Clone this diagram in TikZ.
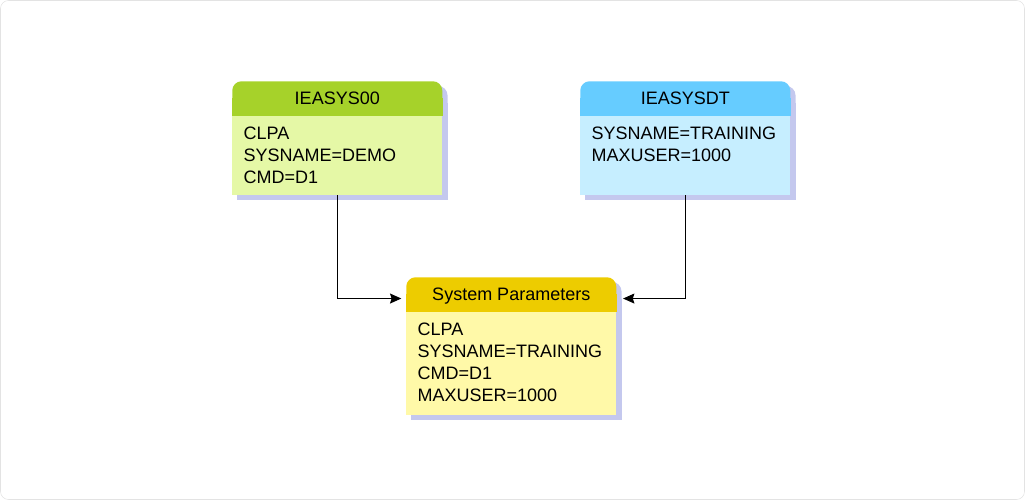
\documentclass[tikz,border=0pt]{standalone}
\usepackage{fontspec}
\setmainfont{Liberation Sans}
\usepackage{tikz}
\usetikzlibrary{arrows.meta,positioning,backgrounds}
\definecolor{hdrgreen}{RGB}{166, 210, 42}
\definecolor{bodygreen}{RGB}{229, 248, 166}
\definecolor{hdrblue}{RGB}{102, 204, 255}
\definecolor{bodyblue}{RGB}{198, 238, 255}
\definecolor{hdryellow}{RGB}{237, 204, 0}
\definecolor{bodyyellow}{RGB}{255, 249, 168}
\definecolor{boxshadow}{RGB}{196, 200, 238}
\newcommand{\memberlines}[2]{\parbox[t][#1][t]{140.5pt}{\raggedright\rule{0pt}{17.5pt}#2}}

\begin{document}
\begin{tikzpicture}[x=0.75pt, y=-0.75pt,
    every node/.style={font=\fontsize{13.5}{16.5}\selectfont},
    hdr/.style={rectangle, rounded corners=7pt, anchor=north west, minimum width=157.5pt,
      minimum height=25.5pt, inner sep=0pt, text height=9.7pt, text depth=0pt},
    member/.style={rectangle, inner xsep=8.5pt, inner ysep=0pt},
    conn/.style={-{Stealth[length=8.5pt, width=7.5pt, inset=1.2pt]}, line width=0.75pt}]
    \useasboundingbox (0,0) rectangle (1025,500);
    \draw[black!11, rounded corners=6pt] (0.5,0.5) rectangle (1024.5,499.5);
    % Parameter members
    \node[hdr, fill=hdrgreen] (sysHdr) at (232,81) {IEASYS00};
    \node[member, fill=bodygreen, below=0pt of sysHdr] (sysBody) {\memberlines{59.25pt}{CLPA\\SYSNAME=DEMO\\CMD=D1}};
    \node[hdr, fill=hdrblue] (dtHdr) at (580,81) {IEASYSDT};
    \node[member, fill=bodyblue, below=0pt of dtHdr] (dtBody) {\memberlines{59.25pt}{SYSNAME=TRAINING\\MAXUSER=1000}};
    % Resulting parameters
    \node[hdr, fill=hdryellow] (parHdr) at (406,277) {System Parameters};
    \node[member, fill=bodyyellow, below=0pt of parHdr] (parBody) {\memberlines{77.25pt}{CLPA\\SYSNAME=TRAINING\\CMD=D1\\MAXUSER=1000}};
    % Shadows and square header bottoms
    \begin{scope}[on background layer]
      \foreach \b/\hc in {sys/hdrgreen, dt/hdrblue, par/hdryellow}{
        \fill[boxshadow, rounded corners=7pt] ([shift={(3.75pt,-3.75pt)}]\b Hdr.north west) rectangle ([shift={(3.75pt,-3.75pt)}]\b Hdr.south east);
        \fill[boxshadow] ([shift={(3.75pt,-3.75pt)}]\b Hdr.west) rectangle ([shift={(3.75pt,-3.75pt)}]\b Body.south east);
        \fill[\hc] (\b Hdr.west) rectangle (\b Hdr.south east);
      }
    \end{scope}
    % Connecting arrows
    \draw[conn] (sysBody.south) |- ([xshift=-3.5pt, yshift=-3.2pt]parHdr.west);
    \draw[conn] (dtBody.south) |- ([xshift=4.9pt, yshift=-3.2pt]parHdr.east);
\end{tikzpicture}
\end{document}
